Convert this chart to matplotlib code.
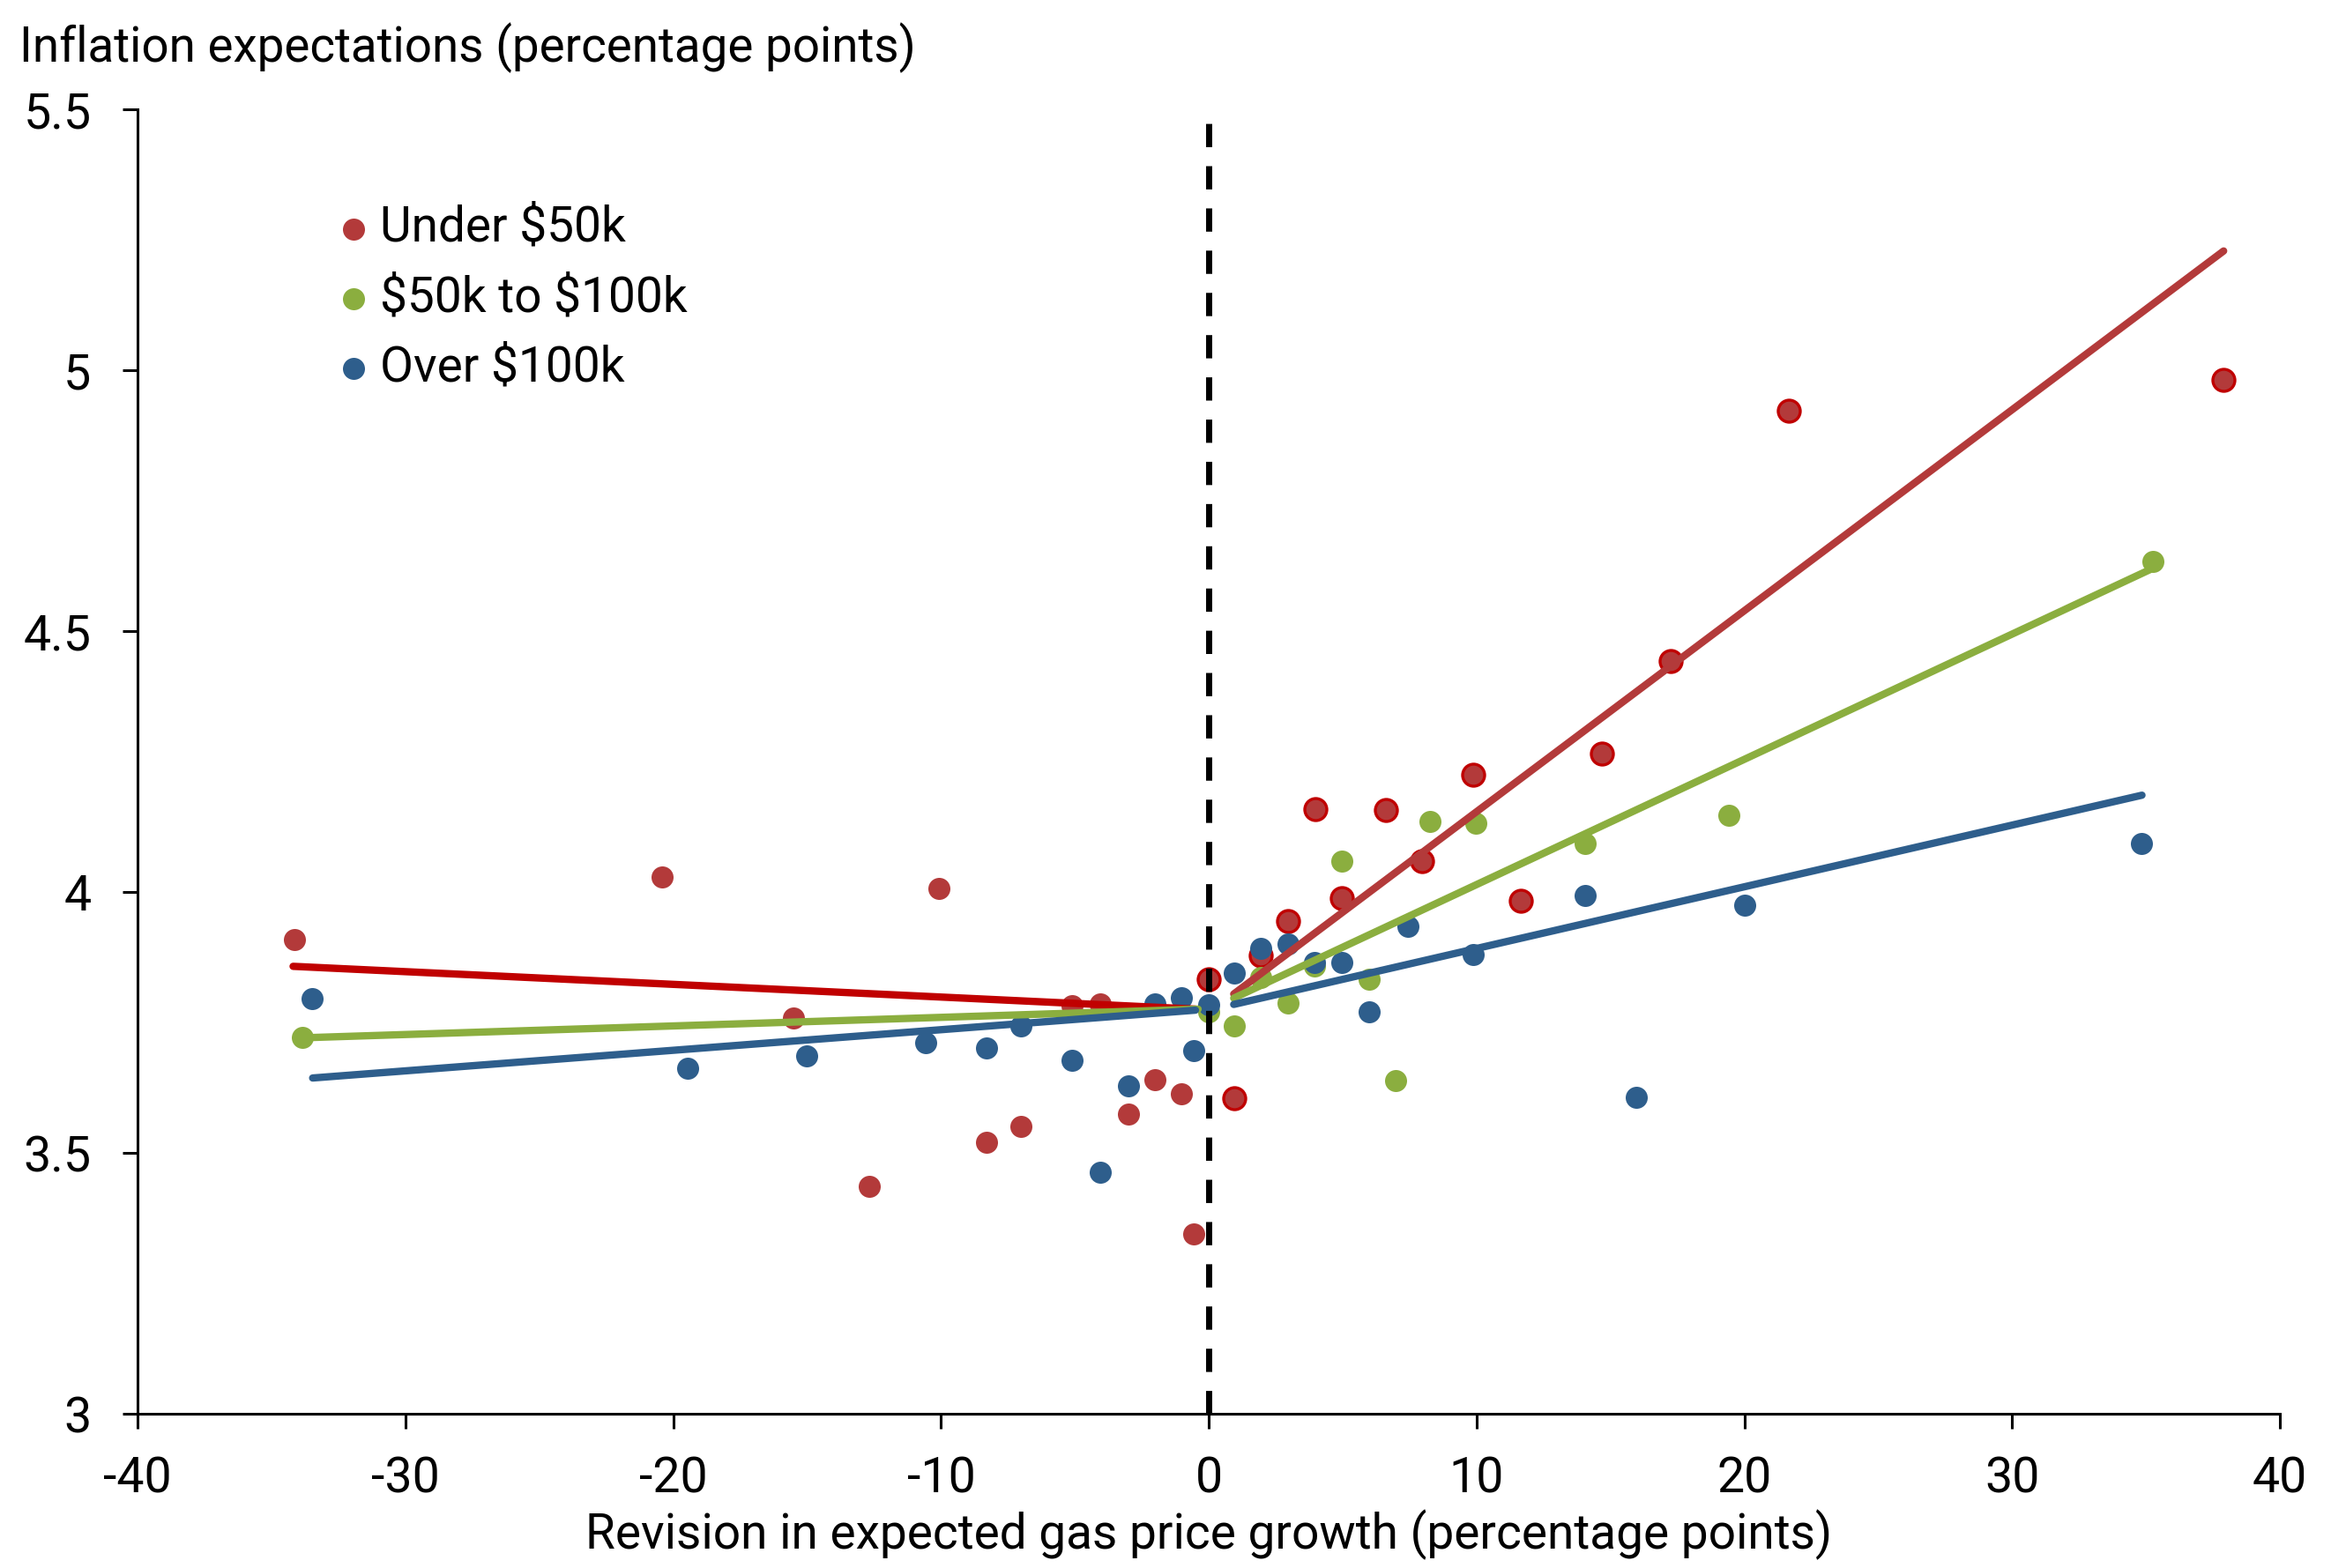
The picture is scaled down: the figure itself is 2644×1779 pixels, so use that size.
import matplotlib
matplotlib.use("Agg")
import matplotlib.pyplot as plt
from matplotlib.ticker import FixedLocator, FixedFormatter

plt.rcParams['font.family'] = ['Roboto', 'DejaVu Sans']

# series labels and colours
labels = ["Under \\$50k", "\\$50k to \\$100k", "Over \\$100k"]
red = "#B33A3A"
red_dark = "#C00000"
green = "#8BAE3F"
blue = "#2E5E8C"

# Under $50k, revision < 0 (no edge) and revision >= 0 (dark edge)
low_x_neg = [-34.15, -20.42, -15.52, -12.69, -10.09, -8.29, -7.02, -5.11, -4.04, -3.0, -2.02, -1.04, -0.55]
low_y_neg = [3.909, 4.029, 3.759, 3.437, 4.008, 3.520, 3.552, 3.783, 3.786, 3.575, 3.641, 3.613, 3.345]
low_x_pos = [0.0, 0.96, 1.95, 2.97, 3.97, 4.98, 6.60, 7.95, 9.87, 11.65, 14.67, 17.26, 21.65, 37.9]
low_y_pos = [3.834, 3.606, 3.879, 3.944, 4.160, 3.989, 4.158, 4.060, 4.226, 3.983, 4.265, 4.443, 4.922, 4.982]

# $50k to $100k
mid_x = [-33.85, 0.0, 0.96, 1.95, 2.97, 3.96, 4.98, 5.99, 6.97, 8.25, 9.96, 14.04, 19.41, 35.27]
mid_y = [3.721, 3.770, 3.744, 3.837, 3.787, 3.859, 4.059, 3.834, 3.639, 4.135, 4.133, 4.093, 4.147, 4.634]

# Over $100k
high_x = [-33.49, -19.47, -15.02, -10.58, -8.31, -7.02, -5.11, -4.04, -3.0, -2.02, -1.04, -0.55,
          0.0, 0.96, 1.95, 2.97, 3.96, 4.98, 5.99, 7.43, 9.88, 14.07, 15.98, 20.0, 34.82]
high_y = [3.796, 3.662, 3.686, 3.711, 3.702, 3.744, 3.678, 3.463, 3.629, 3.786, 3.797, 3.696,
          3.785, 3.845, 3.893, 3.901, 3.866, 3.865, 3.770, 3.935, 3.880, 3.994, 3.607, 3.975, 4.093]

# fitted lines, left and right of zero (endpoints)
low_fit_left_x = [-34.2, -0.5]
low_fit_left_y = [3.858, 3.776]
low_fit_right_x = [0.93, 37.9]
low_fit_right_y = [3.805, 5.229]
mid_fit_left_x = [-33.85, -0.4]
mid_fit_left_y = [3.721, 3.776]
mid_fit_right_x = [0.93, 35.22]
mid_fit_right_y = [3.797, 4.620]
high_fit_left_x = [-33.47, -0.5]
high_fit_left_y = [3.644, 3.774]
high_fit_right_x = [0.93, 34.85]
high_fit_right_y = [3.785, 4.186]

xticks = [-40, -30, -20, -10, 0, 10, 20, 30, 40]
xtick_labels = ["-40", "-30", "-20", "-10", "0", "10", "20", "30", "40"]
yticks = [3, 3.5, 4, 4.5, 5, 5.5]
ytick_labels = ["3", "3.5", "4", "4.5", "5", "5.5"]

W, H = 2644, 1779
fig = plt.figure(figsize=(W / 200, H / 200), dpi=200)
ax = fig.add_axes([156.3 / W, 1 - 1604.3 / H, (2586 - 156.3) / W, (1604.3 - 124.3) / H])

ms = 81
ax.scatter(low_x_neg, low_y_neg, s=ms, color=red, linewidths=0, zorder=2, label=labels[0])
ax.scatter(low_x_pos, low_y_pos, s=ms, color=red, edgecolors=red_dark, linewidths=1.2, zorder=2)
ax.scatter(mid_x, mid_y, s=ms, color=green, linewidths=0, zorder=3, label=labels[1])
ax.scatter(high_x, high_y, s=ms, color=blue, linewidths=0, zorder=4, label=labels[2])

ax.plot([0, 0], [3, 5.483], color="black", lw=2.5, ls=(0, (3.8, 3.1)), zorder=5)

lw = 3.0
ax.plot(low_fit_left_x, low_fit_left_y, color=red_dark, lw=lw, solid_capstyle="round", zorder=6)
ax.plot(low_fit_right_x, low_fit_right_y, color=red, lw=lw, solid_capstyle="round", zorder=6)
ax.plot(mid_fit_left_x, mid_fit_left_y, color=green, lw=lw, solid_capstyle="round", zorder=7)
ax.plot(mid_fit_right_x, mid_fit_right_y, color=green, lw=lw, solid_capstyle="round", zorder=7)
ax.plot(high_fit_left_x, high_fit_left_y, color=blue, lw=lw, solid_capstyle="round", zorder=8)
ax.plot(high_fit_right_x, high_fit_right_y, color=blue, lw=lw, solid_capstyle="round", zorder=8)

ax.set_xlim(-40, 40)
ax.set_ylim(3, 5.5)
ax.xaxis.set_major_locator(FixedLocator(xticks))
ax.xaxis.set_major_formatter(FixedFormatter(xtick_labels))
ax.yaxis.set_major_locator(FixedLocator(yticks))
ax.yaxis.set_major_formatter(FixedFormatter(ytick_labels))
for s in ["top", "right"]:
    ax.spines[s].set_visible(False)
for s in ["left", "bottom"]:
    ax.spines[s].set_linewidth(1.1)
ax.tick_params(axis="both", direction="out", length=6, width=1.1, labelsize=20, colors="black")
ax.tick_params(axis="x", pad=11)
ax.tick_params(axis="y", pad=13)

fig.text(22 / W, 1 - 70 / H, "Inflation expectations (percentage points)", fontsize=19.7,
         ha="left", va="baseline")
fig.text(1371 / W, 1 - 1757 / H, "Revision in expected gas price growth (percentage points)",
         fontsize=19.8, ha="center", va="baseline")

ax.legend(loc="upper left", bbox_to_anchor=(387 / W, 1 - 232 / H), bbox_transform=fig.transFigure,
          frameon=False, fontsize=19.8, handlelength=0.5, handletextpad=0.3, labelspacing=0.48,
          borderpad=0, borderaxespad=0, scatterpoints=1)

fig.savefig("out.png", dpi=200)
